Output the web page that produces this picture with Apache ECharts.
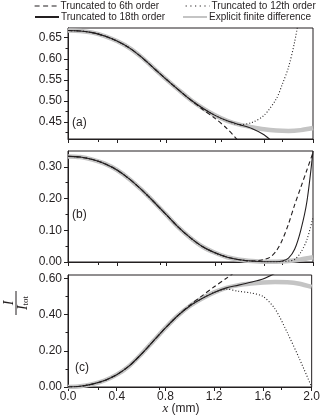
<!DOCTYPE html>
<html>
<head>
<meta charset="utf-8">
<script src="https://cdn.jsdelivr.net/npm/echarts@6/dist/echarts.min.js"></script>
<style>
html, body { margin: 0; padding: 0; background: #fff; }
#chart { width: 323px; height: 420px; }
</style>
</head>
<body>
<div id="chart"></div>
<script>
// x positions (mm) shared by the finite difference curves
const xs = [0.0, 0.1, 0.2, 0.3, 0.4, 0.5, 0.6, 0.7, 0.8, 0.9, 1.0,
            1.1, 1.2, 1.3, 1.4, 1.5, 1.6, 1.7, 1.8, 1.9, 2.0];

// explicit finite difference, panels (a) (b) (c)
const aFD = [0.667, 0.666, 0.662, 0.654, 0.642, 0.626, 0.604, 0.578, 0.552, 0.527, 0.503,
             0.483, 0.466, 0.453, 0.444, 0.438, 0.433, 0.430, 0.429, 0.431, 0.436];
const bFD = [0.333, 0.331, 0.323, 0.310, 0.290, 0.262, 0.228, 0.190, 0.150, 0.110, 0.076,
             0.048, 0.029, 0.015, 0.007, 0.003, 0.001, 0.001, 0.003, 0.008, 0.015];
const cFD = [0.000, 0.004, 0.016, 0.036, 0.068, 0.115, 0.180, 0.253, 0.326, 0.393, 0.447,
             0.488, 0.522, 0.547, 0.562, 0.571, 0.577, 0.579, 0.578, 0.570, 0.552];

// truncated series: they sit on the FD curve up to the first tail x, then follow the tail
const a6X = [1.1, 1.2, 1.3, 1.4];
const a6Y = [0.480, 0.459, 0.434, 0.402];
const a12X = [1.5, 1.6, 1.7, 1.75, 1.8, 1.85, 1.9];
const a12Y = [0.449, 0.466, 0.505, 0.540, 0.580, 0.640, 0.720];
const a18X = [1.5, 1.6, 1.7];
const a18Y = [0.435, 0.420, 0.395];

const b6X = [1.6, 1.65, 1.7, 1.75, 1.8, 1.85, 1.9, 1.95, 2.0];
const b6Y = [0.008, 0.015, 0.035, 0.070, 0.120, 0.180, 0.235, 0.290, 0.345];
const b12X = [1.85, 1.9, 1.95, 2.0];
const b12Y = [0.008, 0.030, 0.070, 0.140];
const b18X = [1.75, 1.8, 1.85, 1.9, 1.95, 2.0];
const b18Y = [0.003, 0.012, 0.040, 0.100, 0.190, 0.350];

const c6X = [1.0, 1.1, 1.2, 1.3, 1.4];
const c6Y = [0.452, 0.503, 0.553, 0.600, 0.648];
const c12X = [1.3, 1.4, 1.5, 1.6, 1.7, 1.8, 1.9, 2.0];
const c12Y = [0.540, 0.528, 0.519, 0.500, 0.430, 0.300, 0.155, 0.000];
const c18X = [1.5, 1.6, 1.7];
const c18Y = [0.578, 0.596, 0.628];

// tick labels
const xTicks = [0.0, 0.4, 0.8, 1.2, 1.6, 2.0];
const aTicks = [0.45, 0.50, 0.55, 0.60, 0.65];
const aMinor = [0.425, 0.475, 0.525, 0.575, 0.625];
const bTicks = [0.00, 0.10, 0.20, 0.30];
const bMinor = [0.05, 0.15, 0.25];
const cTicks = [0.00, 0.20, 0.40, 0.60];
const cMinor = [0.10, 0.30, 0.50];

const N6 = 'Truncated to 6th order';
const N12 = 'Truncated to 12th order';
const N18 = 'Truncated to 18th order';
const NFD = 'Explicit finite difference';

function pts(ys) {
  return xs.map((x, i) => [x, ys[i]]);
}
function withTail(ys, tx, ty) {
  const head = xs.map((x, i) => [x, ys[i]]).filter(p => p[0] < tx[0] - 1e-9);
  return head.concat(tx.map((x, i) => [x, ty[i]]));
}

const font = 'Liberation Sans, Arial, sans-serif';
const ink = '#231f20';
const dash = [4.5, 3];
const dot = [1, 2];

function fd(data, p) {
  return {
    name: NFD, type: 'line', data: data, xAxisIndex: p, yAxisIndex: p * 2,
    symbol: 'none', smooth: 0.3, z: 1,
    lineStyle: { color: '#c4c4c4', width: 4.5 },
    itemStyle: { color: '#c4c4c4' }
  };
}
function tr(name, data, p, type) {
  const ls = { color: ink, width: 1.1, type: 'solid' };
  if (type === 'dash') ls.type = dash;
  if (type === 'dot') ls.type = dot;
  return {
    name: name, type: 'line', data: data, xAxisIndex: p, yAxisIndex: p * 2,
    symbol: 'none', smooth: 0.3, z: 3, clip: true,
    lineStyle: ls, itemStyle: { color: ink }
  };
}

const grids = [
  { left: 68, top: 28, width: 245, height: 111 },
  { left: 68, top: 151, width: 245, height: 111 },
  { left: 68, top: 275, width: 245, height: 112 }
];
const yRanges = [[0.41, 0.673], [0, 0.35], [0, 0.618]];
const yTickSets = [aTicks, bTicks, cTicks];
const yMinorSets = [aMinor, bMinor, cMinor];

const xAxes = [];
const yAxes = [];
for (let p = 0; p < 3; p++) {
  xAxes.push({
    type: 'value', gridIndex: p, min: 0, max: 2.0,
    axisLine: { show: true, lineStyle: { color: ink, width: 1 } },
    axisTick: { show: true, length: 4, customValues: xTicks, lineStyle: { color: ink } },
    minorTick: { show: true, splitNumber: 2, length: 3, lineStyle: { color: ink } },
    splitNumber: 5,
    splitLine: { show: false },
    axisLabel: {
      show: p === 2, color: ink, fontFamily: font, fontSize: 12, margin: 4,
      customValues: xTicks, formatter: v => v.toFixed(1)
    }
  });
  yAxes.push({
    type: 'value', gridIndex: p, position: 'left', min: yRanges[p][0], max: yRanges[p][1],
    axisLine: { show: true, lineStyle: { color: ink, width: 1 } },
    axisTick: { show: true, length: 4, customValues: yTickSets[p], lineStyle: { color: ink } },
    splitLine: { show: false },
    axisLabel: {
      color: ink, fontFamily: font, fontSize: 12, margin: 6,
      customValues: yTickSets[p], formatter: v => v.toFixed(2)
    }
  });
  // second axis only for the short minor ticks, same left side
  yAxes.push({
    type: 'value', gridIndex: p, position: 'left', offset: 0,
    min: yRanges[p][0], max: yRanges[p][1],
    axisLine: { show: false },
    axisTick: { show: true, length: 2.5, customValues: yMinorSets[p], lineStyle: { color: ink } },
    splitLine: { show: false },
    axisLabel: { show: false }
  });
}

const legendBase = {
  orient: 'horizontal', padding: 0, itemWidth: 24, itemHeight: 10, itemGap: 0,
  selectedMode: false,
  itemStyle: { color: 'transparent', borderColor: 'transparent', borderWidth: 0 },
  textStyle: { color: ink, fontFamily: font, fontSize: 10, padding: [0, 0, 0, -3] }
};

const chart = echarts.init(document.getElementById('chart'));
chart.setOption({
  animation: false,
  backgroundColor: '#fff',
  grid: grids.map(g => Object.assign({ show: true, borderColor: ink, borderWidth: 1, backgroundColor: 'transparent' }, g)),
  xAxis: xAxes,
  yAxis: yAxes,
  legend: [
    Object.assign({ data: [N6], left: 34, top: 1, lineStyle: { type: [5, 3.5], width: 1.2 } }, legendBase),
    Object.assign({ data: [N12], left: 185, top: 1, lineStyle: { type: [1.2, 3.5], width: 1.2 } }, legendBase),
    Object.assign({ data: [N18], left: 34, top: 12 }, legendBase),
    Object.assign({ data: [NFD], left: 182, top: 12 }, legendBase)
  ],
  graphic: [
    { type: 'text', left: 72, top: 117, style: { text: '(a)', fill: ink, font: '12px ' + font } },
    { type: 'text', left: 72, top: 209, style: { text: '(b)', fill: ink, font: '12px ' + font } },
    { type: 'text', left: 75, top: 362, style: { text: '(c)', fill: ink, font: '12px ' + font } },
    {
      type: 'text', x: 181, y: 409,
      style: {
        text: '{i|x} (mm)', fill: ink, align: 'center', verticalAlign: 'middle',
        font: '12px ' + font,
        rich: { i: { fontFamily: 'Liberation Serif', fontStyle: 'italic', fontSize: 13, fill: ink } }
      }
    },
    {
      type: 'group', x: 16, y: 303, rotation: Math.PI / 2,
      children: [
        { type: 'text', x: 0, y: -7, style: { text: 'I', fill: ink, align: 'center', verticalAlign: 'middle', font: 'italic 14px Liberation Serif' } },
        { type: 'line', shape: { x1: -12, y1: 0, x2: 12, y2: 0 }, style: { stroke: ink, lineWidth: 1 } },
        {
          type: 'text', x: 0, y: 7,
          style: {
            text: '{i|I}{s|tot}', fill: ink, align: 'center', verticalAlign: 'middle',
            rich: {
              i: { fontFamily: 'Liberation Serif', fontStyle: 'italic', fontSize: 14, fill: ink },
              s: { fontFamily: 'Liberation Serif', fontSize: 9, fill: ink, padding: [6, 0, 0, 0] }
            }
          }
        }
      ]
    }
  ],
  series: [
    fd(pts(aFD), 0),
    tr(N6, withTail(aFD, a6X, a6Y), 0, 'dash'),
    tr(N12, withTail(aFD, a12X, a12Y), 0, 'dot'),
    tr(N18, withTail(aFD, a18X, a18Y), 0, 'solid'),
    fd(pts(bFD), 1),
    tr(N6, withTail(bFD, b6X, b6Y), 1, 'dash'),
    tr(N12, withTail(bFD, b12X, b12Y), 1, 'dot'),
    tr(N18, withTail(bFD, b18X, b18Y), 1, 'solid'),
    fd(pts(cFD), 2),
    tr(N6, withTail(cFD, c6X, c6Y), 2, 'dash'),
    tr(N12, withTail(cFD, c12X, c12Y), 2, 'dot'),
    tr(N18, withTail(cFD, c18X, c18Y), 2, 'solid')
  ]
});
</script>
</body>
</html>
